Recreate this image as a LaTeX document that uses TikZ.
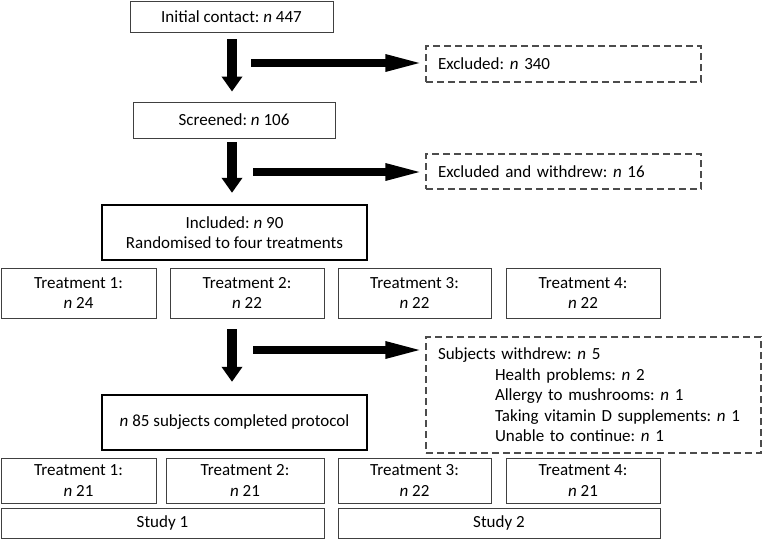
\documentclass[tikz,border=0pt]{standalone}
\usepackage{fontspec}
\setmainfont{Carlito}
\usetikzlibrary{arrows.meta}
\frenchspacing
\begin{document}
\begin{tikzpicture}[x=1pt, y=-1pt,
	font=\fontsize{17}{20.5}\selectfont,
	box/.style={draw=black!75, line width=0.9pt, inner sep=0pt, align=center},
	mainbox/.style={draw=black, line width=2.4pt, inner sep=0pt, align=center},
	outbox/.style={draw=black!70, line width=1.2pt, dash pattern=on 7pt off 4pt, inner sep=0pt, align=left},
	down/.style={line width=10pt, -{Triangle[length=15pt, width=20pt]}},
	side/.style={line width=8pt, -{Triangle[length=40pt, width=15pt]}}]
\useasboundingbox (0,0) rectangle (762,539);

\node [box, minimum width=203pt, minimum height=31pt] (init) at (231.5,16.5) {Initial contact: \textit{n} 447};
\node [outbox, minimum width=275pt, minimum height=36pt, text width=251pt] (excl) at (563.5,64) {Excluded: \textit{n} 340};
\node [box, minimum width=202pt, minimum height=36pt] (scr) at (234,120) {Screened: \textit{n} 106};
\node [outbox, minimum width=275pt, minimum height=35pt, text width=251pt] (exclw) at (563.5,171.5) {Excluded and withdrew: \textit{n} 16};
\node [mainbox, minimum width=265pt, minimum height=55pt] (incl) at (234.5,232.5) {Included: \textit{n} 90\\Randomised to four treatments};

% treatments at randomisation
\node [box, minimum width=155pt, minimum height=50pt] (ta1) at (78.5,293) {Treatment 1:\\\textit{n} 24};
\node [box, minimum width=154pt, minimum height=50pt] (ta2) at (247,293) {Treatment 2:\\\textit{n} 22};
\node [box, minimum width=153pt, minimum height=50pt] (ta3) at (414.5,293) {Treatment 3:\\\textit{n} 22};
\node [box, minimum width=154pt, minimum height=50pt] (ta4) at (583,293) {Treatment 4:\\\textit{n} 22};

\node [outbox, minimum width=335pt, minimum height=116pt, text width=311pt] (wd) at (593.5,395)
	{Subjects withdrew: \textit{n} 5\\
	\hspace*{57pt}Health problems: \textit{n} 2\\
	\hspace*{57pt}Allergy to mushrooms: \textit{n} 1\\
	\hspace*{57pt}Taking vitamin D supplements: \textit{n} 1\\
	\hspace*{57pt}Unable to continue: \textit{n} 1};
\node [mainbox, minimum width=265pt, minimum height=55pt] (done) at (234.5,422.5) {\textit{n} 85 subjects completed protocol};

% treatments completed
\node [box, minimum width=155pt, minimum height=45pt] (tb1) at (78.5,480.5) {Treatment 1:\\\textit{n} 21};
\node [box, minimum width=158pt, minimum height=45pt] (tb2) at (245,480.5) {Treatment 2:\\\textit{n} 21};
\node [box, minimum width=153pt, minimum height=45pt] (tb3) at (414.5,480.5) {Treatment 3:\\\textit{n} 22};
\node [box, minimum width=154pt, minimum height=45pt] (tb4) at (583,480.5) {Treatment 4:\\\textit{n} 21};
\node [box, minimum width=323pt, minimum height=30pt] (st1) at (162.5,523) {Study 1};
\node [box, minimum width=322pt, minimum height=30pt] (st2) at (499,523) {Study 2};

\coordinate (d1) at (232,39);
\coordinate (d2) at (232,142);
\coordinate (d3) at (232,329);
\draw [down, shorten >=10pt] (d1) -- (d1 |- scr.north);
\draw [down, shorten >=11pt] (d2) -- (d2 |- incl.north);
\draw [down, shorten >=12pt] (d3) -- (d3 |- done.north);

\coordinate (s1) at (251,63);
\coordinate (s2) at (253,172);
\coordinate (s3) at (253,350);
\draw [side] (s1) -- (excl.west |- s1);
\draw [side] (s2) -- (exclw.west |- s2);
\draw [side] (s3) -- (wd.west |- s3);

\end{tikzpicture}
\end{document}
